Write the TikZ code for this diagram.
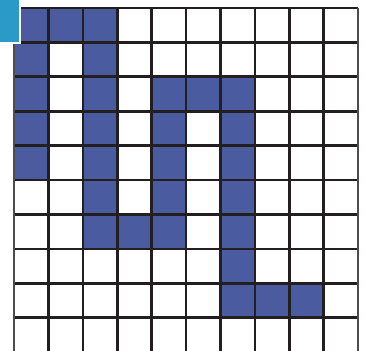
\documentclass[tikz,border=0pt]{standalone}
\definecolor{cellblue}{HTML}{4A5BA0}
\definecolor{tabblue}{HTML}{2A9BC8}
\definecolor{gridblack}{HTML}{231F20}
\begin{document}
\begin{tikzpicture}[x=1pt,y=-1pt,
  filled/.style={fill=cellblue},
  gridline/.style={draw=gridblack,line width=2.6pt},
  edgeline/.style={draw=gridblack!80,line width=1.6pt}]
\useasboundingbox (0,0) rectangle (366,350);
\clip (0,0) rectangle (366,350);
\fill[white] (0,0) rectangle (366,350);
\def\cs{34.4}
\foreach \c/\r in {0/0,1/0,2/0, 0/1,2/1, 0/2,2/2,4/2,5/2,6/2, 0/3,2/3,4/3,6/3, 0/4,2/4,4/4,6/4, 2/5,4/5,6/5, 2/6,3/6,4/6,6/6, 6/7, 6/8,7/8,8/8}
  \fill[filled] ({14+\c*\cs},{8+\r*\cs}) rectangle ++(\cs,\cs);
\foreach \i in {1,...,9}
  \draw[gridline] ({14+\i*\cs},8) -- ({14+\i*\cs},352);
\foreach \j in {0,...,9}
  \draw[gridline] (14,{8+\j*\cs}) -- (358,{8+\j*\cs});
\draw[edgeline] (14,8) -- (14,352);
\draw[edgeline] (358,8) -- (358,352);
\draw[fill=tabblue,draw=white,line width=2pt] (-5,-5) rectangle (19.5,43.5);
\end{tikzpicture}
\end{document}
